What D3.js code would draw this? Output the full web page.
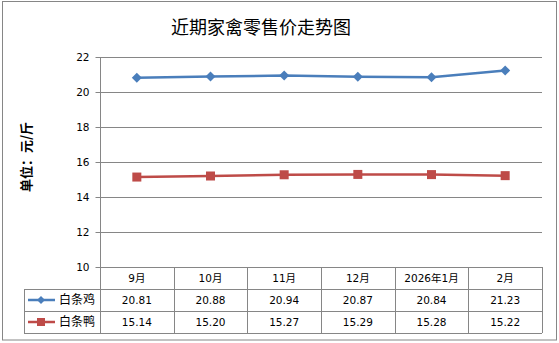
<!DOCTYPE html>
<html><head><meta charset="utf-8">
<script src="https://cdn.jsdelivr.net/npm/d3@7"></script>
<style>body{margin:0;background:#fff}svg{display:block}</style>
</head><body>
<script>
const categories = ["9月","10月","11月","12月","2026年1月","2月"];
const chicken = [20.81,20.88,20.94,20.87,20.84,21.23];
const duck = [15.14,15.20,15.27,15.29,15.28,15.22];
const seriesNames = ["白条鸡","白条鸭"];
const yTicks = [10,12,14,16,18,20,22];
const titleText = "近期家禽零售价走势图";
const yTitle = "单位：元/斤";

const W=559,H=343;
const svg=d3.select("body").append("svg").attr("width",W).attr("height",H);
const font="'Noto Sans CJK SC', 'Noto Sans', sans-serif";
const grid="#868686";
svg.append("rect").attr("x",2.5).attr("y",1.5).attr("width",554).attr("height",338.5).attr("fill","#fff").attr("stroke",grid);

const L=100,R=542,T=57,B=267;
const x=d3.scaleBand().domain(categories).range([L,R]);
const y=d3.scaleLinear().domain([10,22]).range([B,T]);

svg.append("text").attr("x",261).attr("y",34).attr("text-anchor","middle")
 .attr("font-family",font).attr("font-size",18).attr("fill","#000").text(titleText);

// gridlines
svg.append("g").selectAll("line").data(yTicks.filter(d=>d>10)).join("line")
 .attr("x1",L).attr("x2",R).attr("y1",d=>Math.round(y(d))+0.5).attr("y2",d=>Math.round(y(d))+0.5)
 .attr("stroke",grid);
const ax=svg.append("g").attr("transform",`translate(${L+0.5},0)`)
 .call(d3.axisLeft(y).tickValues(yTicks).tickSize(5).tickPadding(6).tickFormat(d3.format("d")));
ax.selectAll("path,line").attr("stroke",grid);
ax.select(".domain").attr("d",`M0,${T}V${B}`);
ax.selectAll("text").attr("font-family","'DejaVu Sans', sans-serif").attr("font-size",10.5).attr("fill","#000");

svg.append("text").attr("transform",`translate(31,157) rotate(-90)`).attr("text-anchor","middle")
 .attr("font-family",font).attr("font-size",13).attr("font-weight","bold").text(yTitle);

const colors=["#4a7ebb","#be4b48"];
const data=[chicken,duck];
const line=d3.line().x((d,i)=>x(categories[i])+x.bandwidth()/2).y(d=>y(d));
data.forEach((s,k)=>{
  svg.append("path").attr("d",line(s)).attr("fill","none").attr("stroke",colors[k]).attr("stroke-width",2.5);
  const g=svg.append("g");
  s.forEach((v,i)=>{
    const cx=x(categories[i])+x.bandwidth()/2, cy=y(v);
    if(k===0) g.append("path").attr("d",`M${cx},${cy-5}L${cx+5},${cy}L${cx},${cy+5}L${cx-5},${cy}Z`).attr("fill",colors[0]);
    else g.append("rect").attr("x",cx-4.5).attr("y",cy-4.5).attr("width",9).attr("height",9).attr("fill",colors[1]);
  });
});

// data table
const rows=[B,289,311,333];
const tb=svg.append("g").attr("stroke",grid).attr("fill","none");
// horizontal lines
tb.append("line").attr("x1",L).attr("x2",R).attr("y1",B+0.5).attr("y2",B+0.5);
[289,311,333].forEach(yy=>tb.append("line").attr("x1",24).attr("x2",R).attr("y1",yy+0.5).attr("y2",yy+0.5));
// vertical lines
tb.append("line").attr("x1",24.5).attr("x2",24.5).attr("y1",289).attr("y2",333);
categories.forEach((c,i)=>{const xx=Math.round(x(c))+0.5;tb.append("line").attr("x1",xx).attr("x2",xx).attr("y1",B).attr("y2",333);});
tb.append("line").attr("x1",R+0.5).attr("x2",R+0.5).attr("y1",B).attr("y2",333);

const tf="'DejaVu Sans', 'Noto Sans CJK SC', sans-serif";
svg.append("g").selectAll("text").data(categories).join("text")
 .attr("x",d=>x(d)+x.bandwidth()/2).attr("y",282).attr("text-anchor","middle")
 .attr("font-family",tf).attr("font-size",10.5).text(d=>d);
data.forEach((s,k)=>{
  const ry=304+k*22;
  svg.append("g").selectAll("text").data(s).join("text")
   .attr("x",(d,i)=>x(categories[i])+x.bandwidth()/2).attr("y",ry).attr("text-anchor","middle")
   .attr("font-family",tf).attr("font-size",10.5).text(d=>d.toFixed(2));
  const ly=ry-4;
  svg.append("line").attr("x1",28).attr("x2",55).attr("y1",ly).attr("y2",ly).attr("stroke",colors[k]).attr("stroke-width",2.5);
  if(k===0) svg.append("path").attr("d",`M41,${ly-4}L45,${ly}L41,${ly+4}L37,${ly}Z`).attr("fill",colors[0]);
  else svg.append("rect").attr("x",37).attr("y",ly-4).attr("width",8).attr("height",8).attr("fill",colors[1]);
  svg.append("text").attr("x",59).attr("y",ry).attr("font-family",font).attr("font-size",12).text(seriesNames[k]);
});
</script>
</body></html>
